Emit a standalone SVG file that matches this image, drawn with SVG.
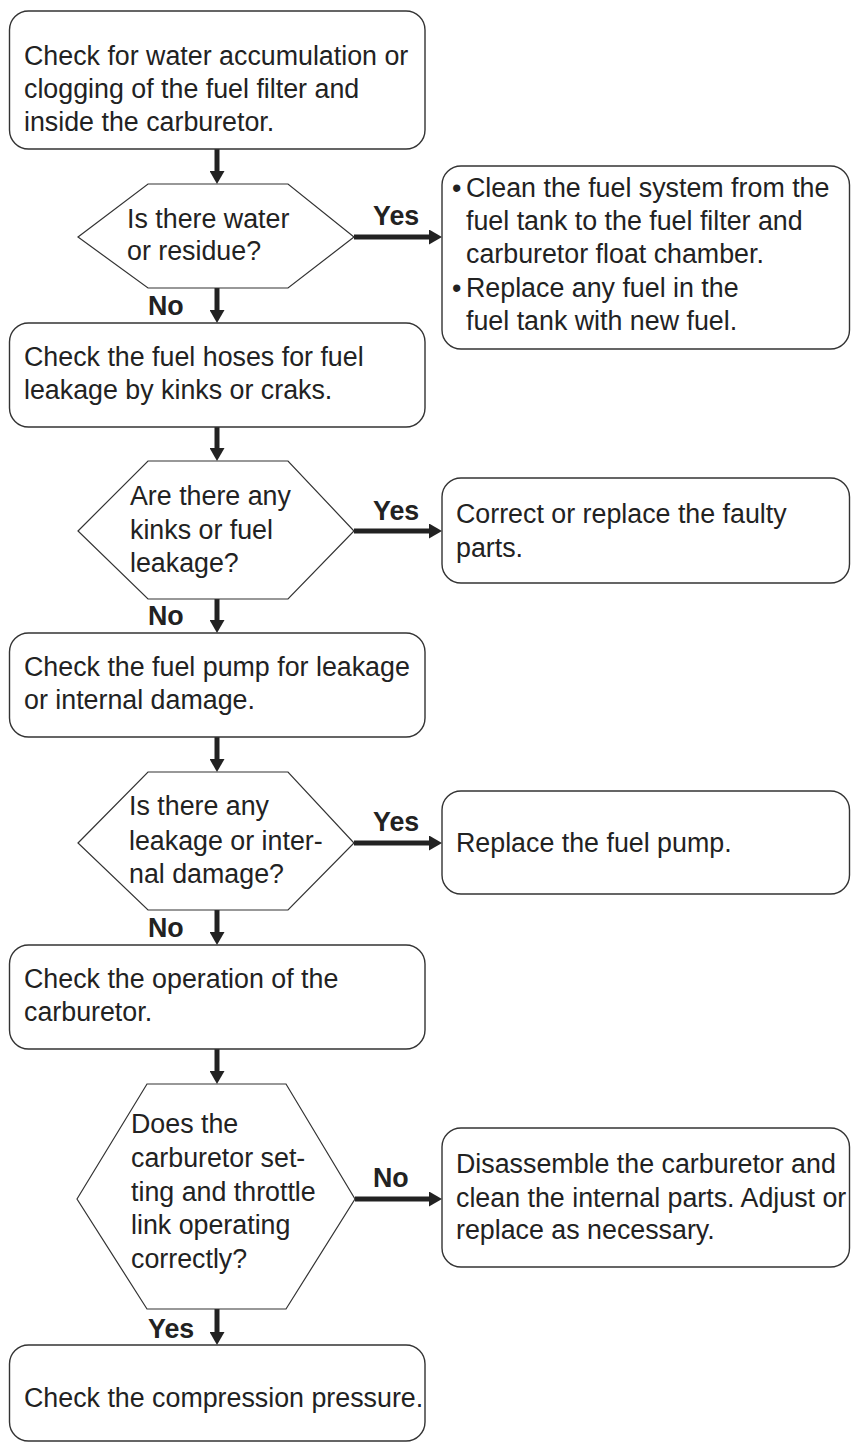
<svg xmlns="http://www.w3.org/2000/svg" width="851" height="1445" viewBox="0 0 851 1445">
<style>
.box{fill:#fff;stroke:#333;stroke-width:1.4}
.hex{fill:#fff;stroke:#333;stroke-width:1.2}
.t{font-family:"Liberation Sans",Arial,sans-serif;font-size:26.8px;fill:#222}
.b{font-family:"Liberation Sans",Arial,sans-serif;font-size:26.8px;font-weight:bold;fill:#222}
.c{stroke:#222;stroke-width:5;fill:none}
</style>
<defs>
<marker id="ah" viewBox="0 0 13 15" refX="0" refY="7.5" markerWidth="13" markerHeight="15" markerUnits="userSpaceOnUse" orient="auto">
<path d="M0,0 L13,7.5 L0,15 z" fill="#222"/>
</marker>
</defs>
<rect width="851" height="1445" fill="#fff"/>
<g id="connectors">
<line class="c" x1="217" y1="149" x2="217" y2="171" marker-end="url(#ah)"/>
<line class="c" x1="354" y1="237" x2="429" y2="237" marker-end="url(#ah)"/>
<line class="c" x1="217" y1="288" x2="217" y2="310" marker-end="url(#ah)"/>
<line class="c" x1="217" y1="427" x2="217" y2="448" marker-end="url(#ah)"/>
<line class="c" x1="354" y1="531" x2="429" y2="531" marker-end="url(#ah)"/>
<line class="c" x1="217" y1="599" x2="217" y2="620" marker-end="url(#ah)"/>
<line class="c" x1="217" y1="737" x2="217" y2="759" marker-end="url(#ah)"/>
<line class="c" x1="354" y1="843" x2="429" y2="843" marker-end="url(#ah)"/>
<line class="c" x1="217" y1="910" x2="217" y2="932" marker-end="url(#ah)"/>
<line class="c" x1="217" y1="1049" x2="217" y2="1071" marker-end="url(#ah)"/>
<line class="c" x1="355" y1="1199" x2="429" y2="1199" marker-end="url(#ah)"/>
<line class="c" x1="217" y1="1309" x2="217" y2="1332" marker-end="url(#ah)"/>
<text class="b" x="373" y="225">Yes</text>
<text class="b" x="148" y="315">No</text>
<text class="b" x="373" y="520">Yes</text>
<text class="b" x="148" y="625">No</text>
<text class="b" x="373" y="831">Yes</text>
<text class="b" x="148" y="937">No</text>
<text class="b" x="373" y="1187">No</text>
<text class="b" x="148" y="1338">Yes</text>
</g>
<g id="n1">
<rect class="box" x="9.5" y="11" width="415.5" height="138" rx="19"/>
<text class="t" x="24" y="65">Check for water accumulation or</text>
<text class="t" x="24" y="98">clogging of the fuel filter and</text>
<text class="t" x="24" y="131">inside the carburetor.</text>
</g>
<g id="d1">
<polygon class="hex" points="78,237 148,184 288,184 354,237 288,288 148,288"/>
<text class="t" x="127" y="228">Is there water</text>
<text class="t" x="127" y="260">or residue?</text>
</g>
<g id="r1">
<rect class="box" x="442" y="166" width="407.5" height="183" rx="19"/>
<text class="t" x="452" y="197">•</text>
<text class="t" x="466" y="197">Clean the fuel system from the</text>
<text class="t" x="466" y="230">fuel tank to the fuel filter and</text>
<text class="t" x="466" y="263">carburetor float chamber.</text>
<text class="t" x="452" y="297">•</text>
<text class="t" x="466" y="297">Replace any fuel in the</text>
<text class="t" x="466" y="330">fuel tank with new fuel.</text>
</g>
<g id="n2">
<rect class="box" x="9.5" y="323" width="415.5" height="104" rx="19"/>
<text class="t" x="24" y="366">Check the fuel hoses for fuel</text>
<text class="t" x="24" y="399">leakage by kinks or craks.</text>
</g>
<g id="d2">
<polygon class="hex" points="78,531 148,461 288,461 354,531 288,599 148,599"/>
<text class="t" x="130" y="505">Are there any</text>
<text class="t" x="130" y="539">kinks or fuel</text>
<text class="t" x="130" y="572">leakage?</text>
</g>
<g id="r2">
<rect class="box" x="442" y="478" width="407.5" height="105" rx="19"/>
<text class="t" x="456" y="523">Correct or replace the faulty</text>
<text class="t" x="456" y="557">parts.</text>
</g>
<g id="n3">
<rect class="box" x="9.5" y="633" width="415.5" height="104" rx="19"/>
<text class="t" x="24" y="676">Check the fuel pump for leakage</text>
<text class="t" x="24" y="709">or internal damage.</text>
</g>
<g id="d3">
<polygon class="hex" points="78,843 148,772 288,772 354,843 288,910 148,910"/>
<text class="t" x="129" y="815">Is there any</text>
<text class="t" x="129" y="850">leakage or inter-</text>
<text class="t" x="129" y="883">nal damage?</text>
</g>
<g id="r3">
<rect class="box" x="442" y="791" width="407.5" height="103" rx="19"/>
<text class="t" x="456" y="852">Replace the fuel pump.</text>
</g>
<g id="n4">
<rect class="box" x="9.5" y="945" width="415.5" height="104" rx="19"/>
<text class="t" x="24" y="988">Check the operation of the</text>
<text class="t" x="24" y="1021">carburetor.</text>
</g>
<g id="d4">
<polygon class="hex" points="77,1199 147,1084 286,1084 355,1199 286,1309 147,1309"/>
<text class="t" x="131" y="1133">Does the</text>
<text class="t" x="131" y="1167">carburetor set-</text>
<text class="t" x="131" y="1201">ting and throttle</text>
<text class="t" x="131" y="1234">link operating</text>
<text class="t" x="131" y="1268">correctly?</text>
</g>
<g id="r4">
<rect class="box" x="442" y="1128" width="407.5" height="139" rx="19"/>
<text class="t" x="456" y="1173">Disassemble the carburetor and</text>
<text class="t" x="456" y="1207">clean the internal parts. Adjust or</text>
<text class="t" x="456" y="1239">replace as necessary.</text>
</g>
<g id="n5">
<rect class="box" x="9.5" y="1345" width="415.5" height="96" rx="19"/>
<text class="t" x="24" y="1407">Check the compression pressure.</text>
</g>
</svg>
